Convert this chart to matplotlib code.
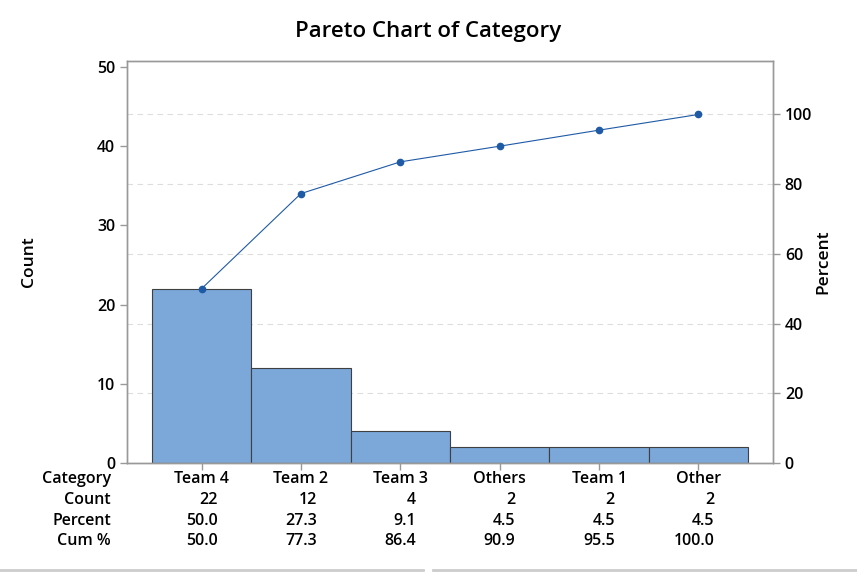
import matplotlib.pyplot as plt
import matplotlib.lines as mlines

categories = ['Team 4', 'Team 2', 'Team 3', 'Others', 'Team 1', 'Other']
counts = [22, 12, 4, 2, 2, 2]
percents = ['50.0', '27.3', '9.1', '4.5', '4.5', '4.5']
cum_pcts = [50.0, 77.3, 86.4, 90.9, 95.5, 100.0]
left_ticks = [0, 10, 20, 30, 40, 50]
right_ticks = [0, 20, 40, 60, 80, 100]

plt.rcParams['font.family'] = ['Open Sans', 'DejaVu Sans']
plt.rcParams['font.weight'] = 'semibold'
plt.rcParams['axes.labelweight'] = 'semibold'

bar_color = '#7ba7d9'
line_color = '#1f5aa6'
spine_color = '#999999'

fig = plt.figure(figsize=(8.57, 5.72), dpi=100)
ax = fig.add_axes([127 / 857, 1 - 463 / 572, 646 / 857, 402 / 572])
ax2 = ax.twinx()

x = list(range(len(categories)))
total = sum(counts)
ymax = 50.75

# dashed grid at the percent ticks, kept behind the bars
for t in right_ticks[1:]:
    ax.axhline(t * total / 100, color='#dddddd', linestyle=(0, (5, 4)), linewidth=0.8, zorder=0)

ax.bar(x, counts, width=1.0, color=bar_color, edgecolor='#404040', linewidth=0.8, zorder=2)
ax.set_xlim(-0.75, len(categories) - 0.25)
ax.set_ylim(0, ymax)
ax.set_yticks(left_ticks)
ax.set_xticks(x)
ax.set_xticklabels([])

ax2.set_ylim(0, ymax * 100 / total)
ax2.set_yticks(right_ticks)
ax2.plot(x, cum_pcts, color=line_color, linewidth=0.8, marker='o', markersize=4.5, zorder=3)

for a in (ax, ax2):
    for s in a.spines.values():
        s.set_color(spine_color)
        s.set_linewidth(1.0)
    a.tick_params(colors=spine_color, labelcolor='black', labelsize=11.5, length=5, width=1)

ax.set_ylabel('Count', fontsize=12.5)
ax.yaxis.set_label_coords(-(127 - 37) / 646, 0.5)
ax2.set_ylabel('Percent', fontsize=12.5)
ax2.yaxis.set_label_coords(1 + (815 - 773) / 646, 0.5)

fig.suptitle('Pareto Chart of Category', x=428 / 857, y=1 - 31 / 572, va='center',
             fontsize=16, fontweight='semibold')

# table under the chart
row_labels = ['Category', 'Count', 'Percent', 'Cum %']
row_y = [479, 500, 521, 541]
for lbl, yy in zip(row_labels, row_y):
    fig.text(111 / 857, 1 - yy / 572, lbl, ha='right', va='center', fontsize=11.5)

trans = ax.get_xaxis_transform()
for i, cat in enumerate(categories):
    ax.text(i, 1 - (479 - 61) / 402, cat, transform=trans, ha='center', va='center', fontsize=11.5)
    ax.text(i + 0.16, 1 - (500 - 61) / 402, str(counts[i]), transform=trans, ha='right', va='center', fontsize=11.5)
    ax.text(i + 0.16, 1 - (521 - 61) / 402, percents[i], transform=trans, ha='right', va='center', fontsize=11.5)
    ax.text(i + 0.16, 1 - (541 - 61) / 402, f'{cum_pcts[i]:.1f}', transform=trans, ha='right', va='center', fontsize=11.5)

fig.add_artist(mlines.Line2D([0, 423 / 857], [0.003, 0.003], color='#cccccc', linewidth=2))
fig.add_artist(mlines.Line2D([433 / 857, 1], [0.003, 0.003], color='#cccccc', linewidth=2))

fig.savefig('out.png', dpi=100)
